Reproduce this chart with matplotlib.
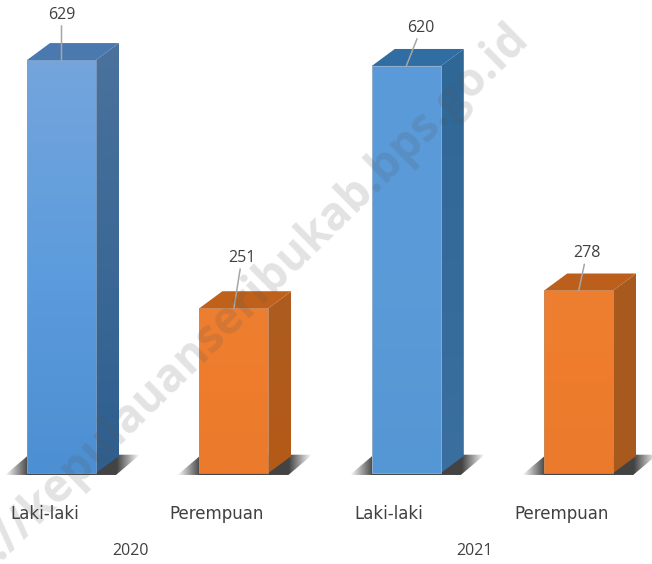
import numpy as np
import matplotlib
matplotlib.use("Agg")
import matplotlib.pyplot as plt
from matplotlib.colors import LinearSegmentedColormap
from matplotlib.patches import Polygon

years = ["2020", "2021"]
categories = ["Laki-laki", "Perempuan", "Laki-laki", "Perempuan"]
values = [629, 251, 620, 278]
fronts = [["#74a5dc", "#5d9cdd", "#4c8fd2"], ["#ef7f30", "#ee7c2c", "#ec7a2c"],
          ["#5a9ad8", "#5b9bd8", "#5596d4"], ["#ef7f30", "#ee7c2c", "#ec7a2c"]]
sides = [["#4a729c", "#2e5f90"], ["#ad5c20", "#b55a18"], ["#2f6797", "#3a6f9f"], ["#a8591f", "#a85a1e"]]
tops = ["#4a79af", "#c0611b", "#2f6da3", "#bd5f1c"]
edges = ["#7f9fc4", "#c98a5c", "#9db4cc", "#c98a5c"]
label_off = [(0, 37), (8, 42), (15, 30), (8, 29)]

W, H = 652, 564
fig = plt.figure(figsize=(W / 100, H / 100), dpi=100)
bottom_px = 495
ax = fig.add_axes([0, (H - bottom_px) / H, 1, bottom_px / H])
PX_X, PX_Y = 172.4, 0.6565
ax.set_xlim(-61.5 / PX_X, (W - 61.5) / PX_X)
ax.set_ylim(-(bottom_px - 473) / PX_Y, 473 / PX_Y)
for s in ax.spines.values():
    s.set_visible(False)
ax.yaxis.set_visible(False)

BW = 69 / PX_X
DX, DY = 23 / PX_X, 17 / PX_Y
plt.rcParams["font.family"] = ["Open Sans", "DejaVu Sans"]
TXT = "#404040"


def grad(poly, colors, zorder=3, image=None):
    xs, ys = zip(*poly)
    patch = Polygon(poly, closed=True, fc="none", ec="none", zorder=zorder)
    ax.add_patch(patch)
    if image is None:
        cm = LinearSegmentedColormap.from_list("g", colors)
        arr = np.linspace(0, 1, 128).reshape(-1, 1)
        im = ax.imshow(arr, cmap=cm, extent=(min(xs), max(xs), min(ys), max(ys)),
                       origin="upper", aspect="auto", zorder=zorder, interpolation="bilinear")
    else:
        im = ax.imshow(image, extent=(min(xs), max(xs), min(ys), max(ys)), origin="upper",
                       aspect="auto", zorder=zorder, interpolation="bilinear")
    im.set_clip_path(patch)


t = np.linspace(0, 1, 200)
shade = np.zeros((1, 200, 4))
shade[..., 3] = (np.clip(t / 0.17, 0, 1) * np.clip((1 - t) / 0.17, 0, 1)) * 0.9
shade[..., :3] = 0.18

for i, (v, cat) in enumerate(zip(values, categories)):
    l, r = i - BW / 2, i + BW / 2
    grad([(l - 22 / PX_X, -3), (r + 20 / PX_X, -3), (r + 44 / PX_X, DY + 2), (l + 2 / PX_X, DY + 2)],
         None, zorder=1, image=shade)
    grad([(r, 0), (r + DX, DY), (r + DX, v + DY), (r, v)], sides[i], zorder=2)
    ax.add_patch(Polygon([(l, v), (l + DX, v + DY), (r + DX, v + DY), (r, v)], closed=True,
                         fc=tops[i], ec="none", zorder=2))
    grad([(l, 0), (r, 0), (r, v), (l, v)], fronts[i], zorder=3)
    ax.add_patch(Polygon([(l, 0), (r, 0), (r, v), (l, v)], closed=True, fc="none",
                         ec=edges[i], lw=0.6, zorder=4))
    dx, dy = label_off[i]
    ax.annotate(str(v), xy=(i, v), xytext=(dx * 0.72, dy * 0.72), textcoords="offset points",
                ha="center", va="bottom", fontsize=11.5, color=TXT, zorder=6,
                arrowprops=dict(arrowstyle="-", color="#a6a6a6", lw=1.1, shrinkA=0, shrinkB=0))

ax.set_xticks([i - 0.1 for i in range(len(categories))])
ax.set_xticklabels(categories, fontsize=12, color=TXT)
ax.tick_params(axis="x", length=0, pad=7)
for gi, y in enumerate(years):
    ax.text(gi * 2 + 0.4 - gi * 0.005, -(551 - 473) / PX_Y, y, ha="center", va="center", fontsize=11.5,
            color=TXT, clip_on=False)

fig.text(213 / W, 1 - 333 / H, "https://kepulauanseribukab.bps.go.id", rotation=44.5,
         rotation_mode="anchor", ha="center", va="center", fontsize=33, fontweight="bold",
         color="#555555", alpha=0.17, zorder=10)

fig.savefig("out.png", dpi=100)
